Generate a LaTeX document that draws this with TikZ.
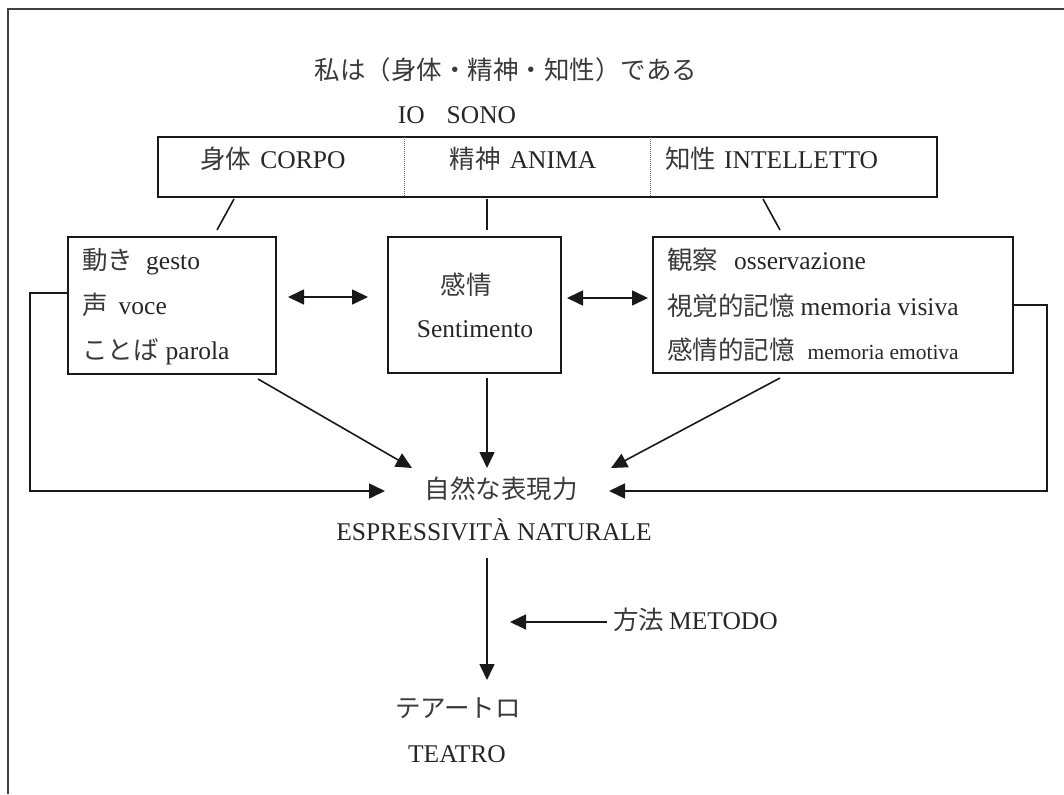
\documentclass[tikz,border=0pt]{standalone}
\usepackage{fontspec}
\setmainfont{Liberation Serif}
\newfontfamily\jp{Noto Sans CJK JP}[Color=3A3A3A]
\usetikzlibrary{arrows.meta}
\begin{document}
\begin{tikzpicture}[x=1pt,y=-1pt,
  every node/.style={text=black!85, font=\fontsize{25.5}{28}\selectfont, inner sep=0pt},
  txt/.style={text height=19pt, text depth=5pt},
  box/.style={draw=black!90, line width=2pt, inner sep=0pt},
  conn/.style={line width=1.6pt, draw=black!90},
  arr/.style={conn, -{Triangle[length=16pt,width=15pt]}},
  darr/.style={conn, {Triangle[length=16pt,width=15pt]}-{Triangle[length=16pt,width=15pt]}},
  frameline/.style={line width=2pt, draw=black!75},
  divider/.style={line width=1pt, draw=black!60, dash pattern=on 1pt off 1pt}]
\useasboundingbox (0,0) rectangle (1064,794);

% outer frame (top and left)
\coordinate (f1) at (8,794);
\coordinate (f2) at (8,9);
\coordinate (f3) at (1064,9);
\draw[frameline] (f1) -- (f2) -- (f3);

% heading
\node[txt] (title) at (506,73) {{\jp 私は（身体・精神・知性）である}};
\node[txt] (iosono) at (457,117) {IO\hspace{22pt}SONO};

% top box
\node[box, minimum width=779pt, minimum height=60pt] (topbox) at (547.5,167) {};
\coordinate (d1t) at (404,137); \coordinate (d1b) at (404,197);
\coordinate (d2t) at (650,137); \coordinate (d2b) at (650,197);
\draw[divider] (d1t) -- (d1b);
\draw[divider] (d2t) -- (d2b);
\node[txt] (corpo) at (273,162) {{\jp 身体}\hspace{9pt}CORPO};
\node[txt] (anima) at (523,162) {{\jp 精神}\hspace{9pt}ANIMA};
\node[txt, anchor=west] (intel) at (665,162) {{\jp 知性}\hspace{8pt}INTELLETTO};

% lower boxes
\node[box, minimum width=208pt, minimum height=137pt] (lbox) at (172,305.5) {};
\node[box, minimum width=173pt, minimum height=136pt] (mbox) at (474.5,305) {};
\node[box, minimum width=360pt, minimum height=136pt] (rbox) at (833,305) {};

\node[txt, anchor=west] (l1) at (82,262) {{\jp 動き}\hspace{13pt}gesto};
\node[txt, anchor=west] (l2) at (82,307) {{\jp 声}\hspace{11pt}voce};
\node[txt, anchor=west] (l3) at (82,352) {{\jp ことば}\hspace{7pt}parola};

\node[txt] (m1) at (466,287) {{\jp 感情}};
\node[txt] (m2) at (475,330) {Sentimento};

\node[txt, anchor=west] (r1) at (667,262) {{\jp 観察}\hspace{16pt}osservazione};
\node[txt, anchor=west] (r2) at (667,308) {{\jp 視覚的記憶}\hspace{6pt}memoria visiva};
\node[txt, anchor=west] (r3) at (667,352) {{\jp 感情的記憶}\hspace{13pt}{\fontsize{21.5}{24}\selectfont memoria emotiva}};

% links from top box to lower boxes
\coordinate (a1) at (234,199); \coordinate (a2) at (217,230);
\coordinate (b1) at (487,199); \coordinate (b2) at (487,230);
\coordinate (c1) at (763,199); \coordinate (c2) at (780,230);
\draw[conn] (a1) -- (a2);
\draw[conn] (b1) -- (b2);
\draw[conn] (c1) -- (c2);

% double arrows between boxes
\coordinate (dl1) at (288,297); \coordinate (dl2) at (368,297);
\coordinate (dr1) at (567,298); \coordinate (dr2) at (648,298);
\draw[darr] (dl1) -- (dl2);
\draw[darr] (dr1) -- (dr2);

% natural expressiveness
\node[txt] (nat) at (501,491) {{\jp 自然な表現力}};
\node[txt] (espr) at (494,533) {ESPRESSIVITÀ NATURALE};

% arrows into it
\coordinate (p1) at (258,379); \coordinate (p2) at (412,468);
\coordinate (q1) at (487,378); \coordinate (q2) at (487,468);
\coordinate (s1) at (780,378); \coordinate (s2) at (611,468);
\draw[arr] (p1) -- (p2);
\draw[arr] (q1) -- (q2);
\draw[arr] (s1) -- (s2);

% side loops
\coordinate (lsA) at (68,293); \coordinate (lsB) at (30,293);
\coordinate (lsC) at (30,491); \coordinate (lsD) at (385,491);
\draw[arr] (lsA) -- (lsB) -- (lsC) -- (lsD);
\coordinate (rsA) at (1013,305); \coordinate (rsB) at (1047,305);
\coordinate (rsC) at (1047,491); \coordinate (rsD) at (609,491);
\draw[arr] (rsA) -- (rsB) -- (rsC) -- (rsD);

% method and theatre
\coordinate (v1) at (487,558); \coordinate (v2) at (487,680);
\draw[arr] (v1) -- (v2);
\node[txt, anchor=west] (metodo) at (613,622) {{\jp 方法}\hspace{5pt}METODO};
\coordinate (m0) at (607,622); \coordinate (mt) at (510,622);
\draw[arr] (m0) -- (mt);

\node[txt] (teatroj) at (458,710) {{\jp テアートロ}};
\node[txt] (teatro) at (457,755) {TEATRO};
\end{tikzpicture}
\end{document}
